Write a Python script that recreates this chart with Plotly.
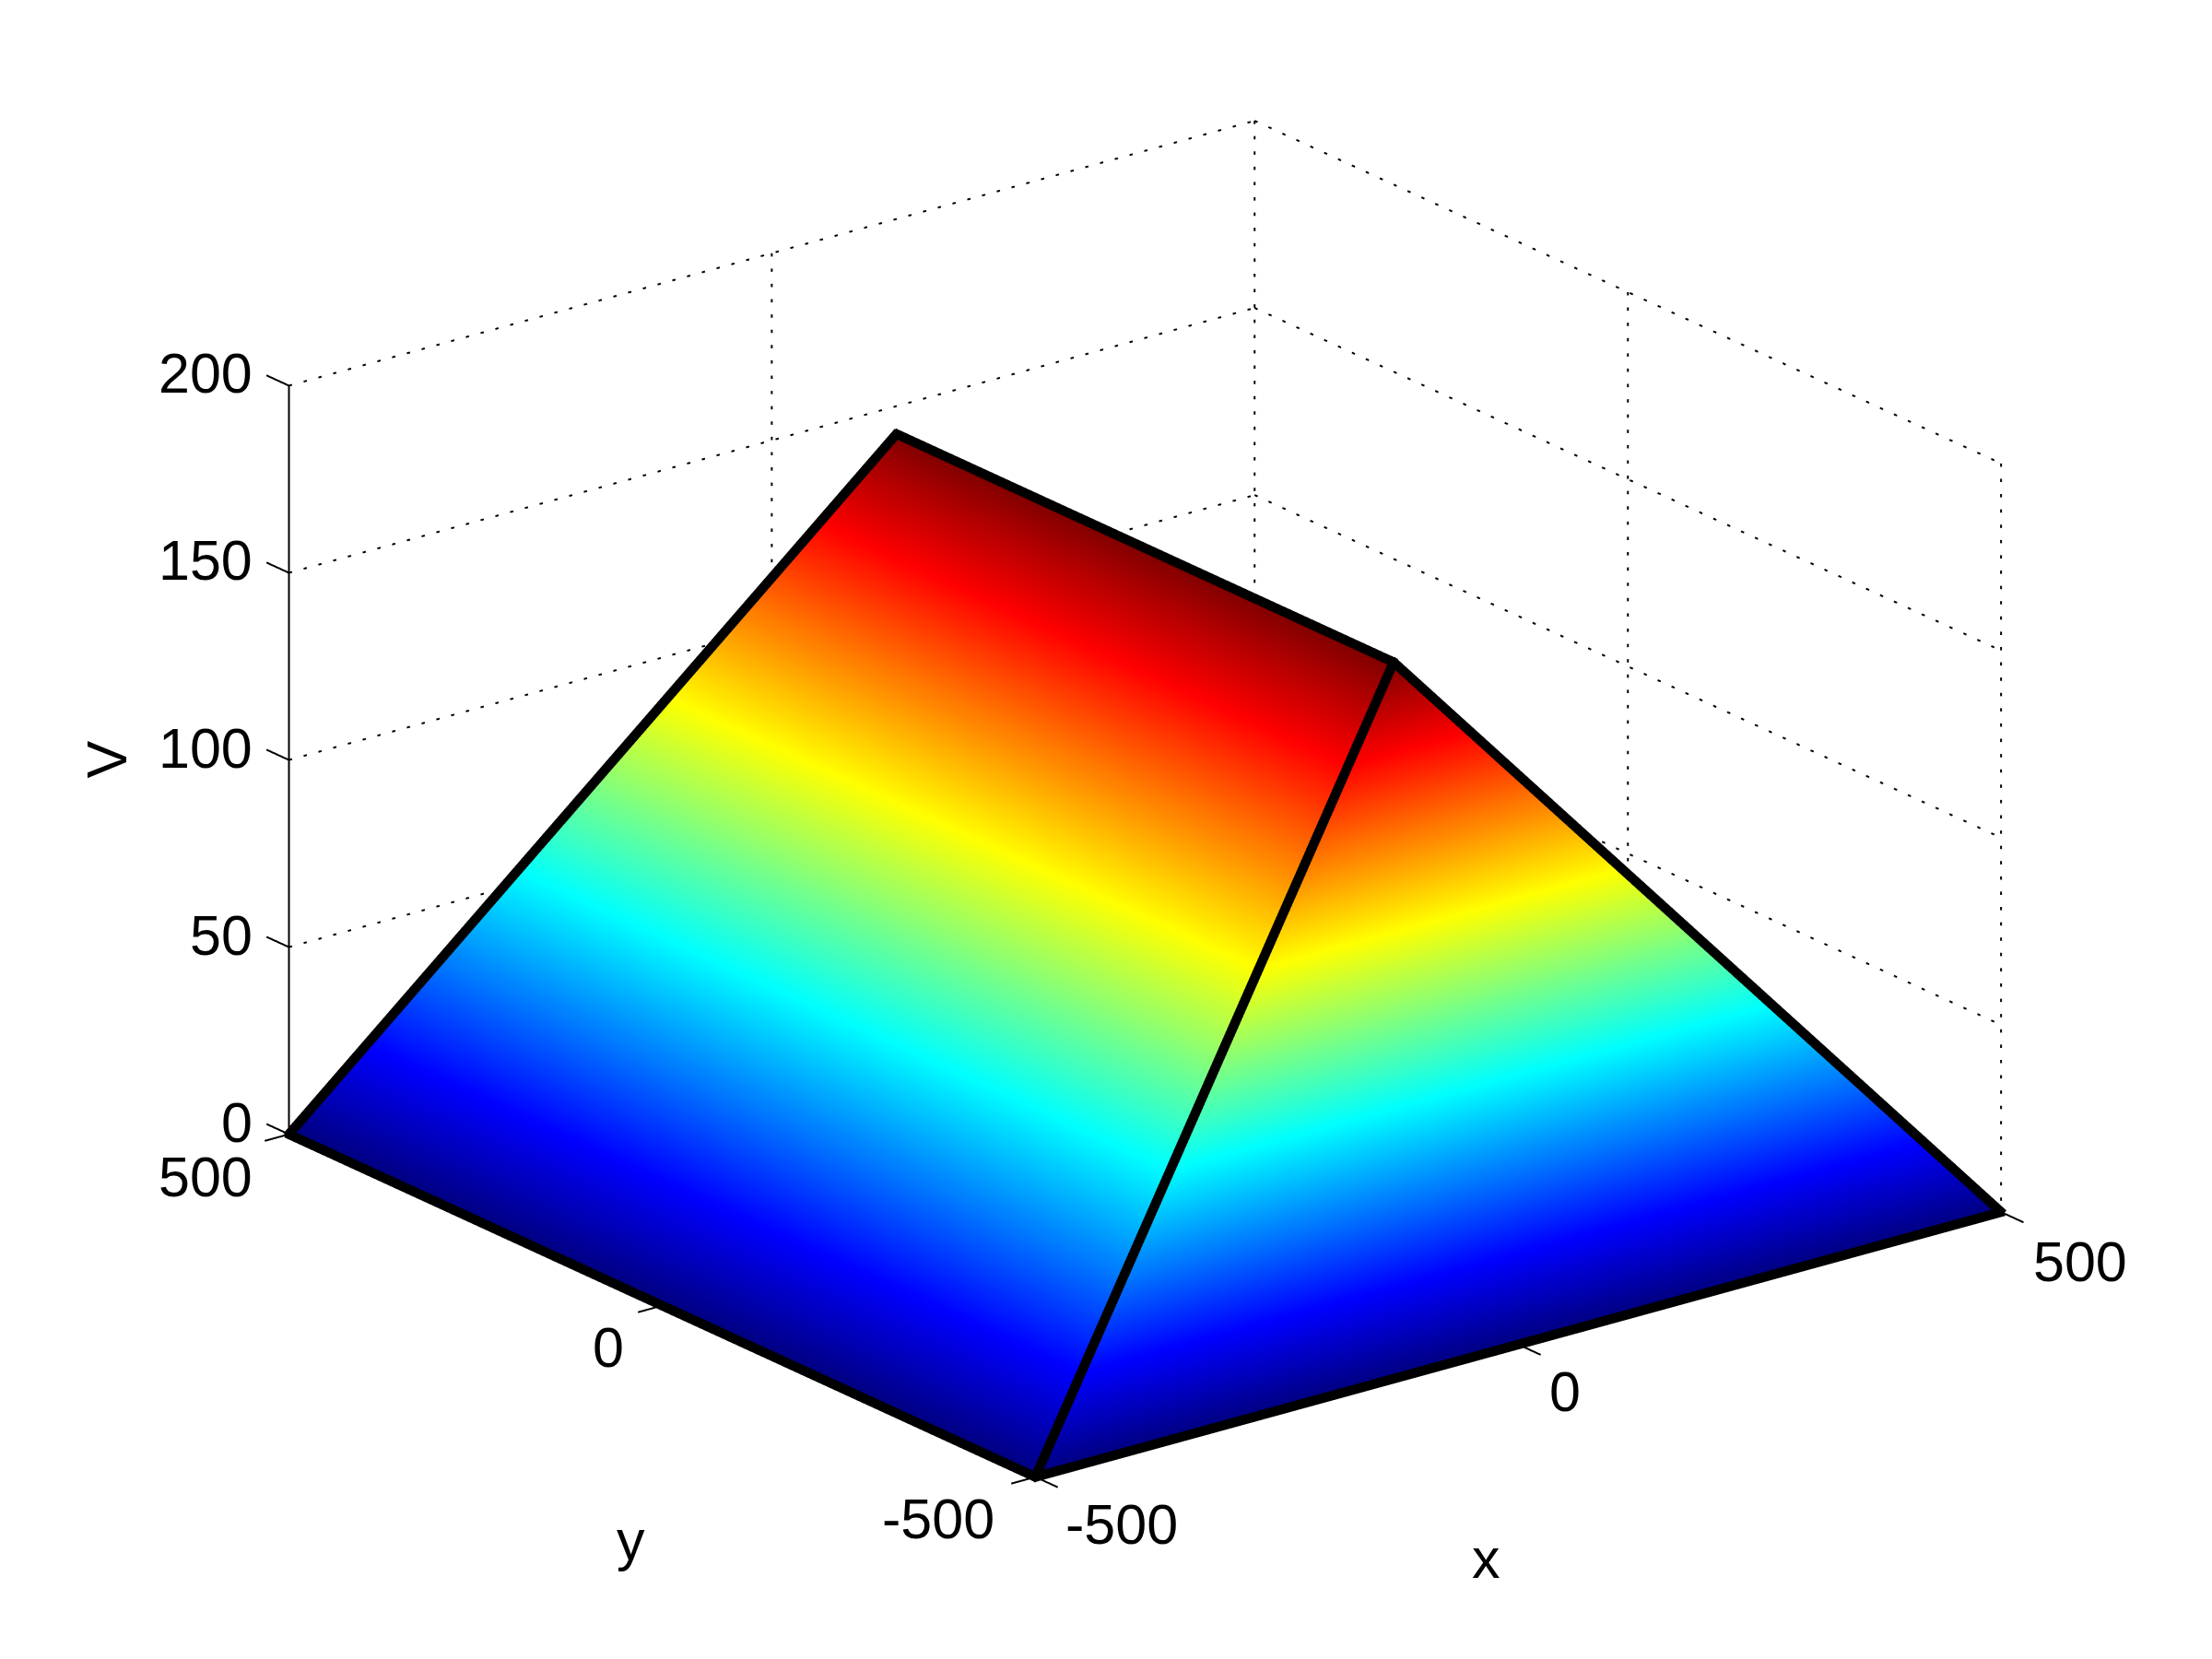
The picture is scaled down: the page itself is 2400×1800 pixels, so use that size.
import numpy as np
import plotly.graph_objects as go

# surface vertices
vx = [-500, -500, 500, 500, 0, 0]
vy = [500, -500, -500, 500, -333, 333]
vz = [0, 0, 0, 0, 167, 167]
tri_i = [0, 0, 1, 2, 2, 3]
tri_j = [1, 4, 2, 3, 5, 0]
tri_k = [4, 5, 4, 5, 4, 5]

# outline segments between vertices
edges = [(0, 1), (1, 2), (0, 5), (5, 4), (4, 2), (1, 4)]

x_ticks = [-500, 0, 500]
y_ticks = [-500, 0, 500]
z_ticks = [0, 50, 100, 150, 200]
x_labels = ["-500", "0", "500"]
y_labels = ["-500", "0", "500"]
z_labels = ["0", "50", "100", "150", "200"]

jet = [[0, "rgb(0,0,128)"], [0.125, "rgb(0,0,255)"], [0.375, "rgb(0,255,255)"],
       [0.625, "rgb(255,255,0)"], [0.875, "rgb(255,0,0)"], [1, "rgb(128,0,0)"]]

# view
VIEW = np.array([-0.572, -0.740, 0.355])
R = 1.8
K = 1.4715                 # orthographic zoom goes through the aspect ratio
ZASPECT = 0.656            # scene units for the 0..200 span
XR, YR, ZR = [-600, 600], [-600, 600], [-30, 230]
PX = 1325.0                # pixels per scene unit
Z_MID = 100


def to_scene(x, y, z):
    return np.array([x / 1000, y / 1000, (z - Z_MID) / 200 * ZASPECT])


def from_scene(p):
    return p[0] * 1000, p[1] * 1000, p[2] / ZASPECT * 200 + Z_MID


def dotted(p, q, period_px=16.6, dot_px=3.6):
    """Short solid pieces along the straight line p->q, spaced as in the reference."""
    a, b = to_scene(*p), to_scene(*q)
    d = b - a
    e = VIEW / np.linalg.norm(VIEW)
    length_px = np.linalg.norm(d - d.dot(e) * e) * PX
    xs, ys, zs = [], [], []
    for t0 in np.arange(0, length_px, period_px):
        t1 = min(t0 + dot_px, length_px)
        for t in (t0, t1):
            u = from_scene(a + d * t / length_px)
            xs.append(u[0]); ys.append(u[1]); zs.append(u[2])
        xs.append(None); ys.append(None); zs.append(None)
    return xs, ys, zs


fig = go.Figure()
fig.add_trace(go.Mesh3d(x=vx, y=vy, z=vz, i=tri_i, j=tri_j, k=tri_k, intensity=vz,
                        colorscale=jet, cmin=0, cmax=167, showscale=False, flatshading=True,
                        lighting=dict(ambient=1, diffuse=0, specular=0, fresnel=0, roughness=1),
                        hoverinfo="skip"))

# dotted grid on the two back walls
gx, gy, gz = [], [], []
def add_dots(p, q):
    a, b, c = dotted(p, q)
    gx.extend(a); gy.extend(b); gz.extend(c)
for z in z_ticks:
    add_dots((x_ticks[0], y_ticks[-1], z), (x_ticks[-1], y_ticks[-1], z))
    add_dots((x_ticks[-1], y_ticks[-1], z), (x_ticks[-1], y_ticks[0], z))
for x in x_ticks[1:]:
    add_dots((x, y_ticks[-1], z_ticks[-1]), (x, y_ticks[-1], z_ticks[0]))
for y in y_ticks[:-1]:
    add_dots((x_ticks[-1], y, z_ticks[-1]), (x_ticks[-1], y, z_ticks[0]))
fig.add_trace(go.Scatter3d(x=gx, y=gy, z=gz, mode="lines", hoverinfo="skip", showlegend=False,
                           line=dict(color="black", width=4)))

# z axis line and tick marks
TX, TY = 25, 30
tx, ty, tz = [x_ticks[0], x_ticks[0], None], [y_ticks[-1], y_ticks[-1], None], [z_ticks[0], z_ticks[-1], None]
for z in z_ticks:
    tx += [x_ticks[0], x_ticks[0], None]; ty += [y_ticks[-1], y_ticks[-1] + TY, None]; tz += [z, z, None]
for y in y_ticks:
    tx += [x_ticks[0], x_ticks[0] - TX, None]; ty += [y, y, None]; tz += [z_ticks[0], z_ticks[0], None]
for x in x_ticks:
    tx += [x, x, None]; ty += [y_ticks[0], y_ticks[0] - TY, None]; tz += [z_ticks[0], z_ticks[0], None]
fig.add_trace(go.Scatter3d(x=tx, y=ty, z=tz, mode="lines", hoverinfo="skip", showlegend=False,
                           line=dict(color="black", width=4)))

# thick outline: flat black ribbons facing the camera, lifted toward it so nothing hides them
HALF = 5.2 / PX
LIFT = 0.03
e = VIEW / np.linalg.norm(VIEW)
rx, ry, rz, ri, rj, rk = [], [], [], [], [], []
for a, b in edges:
    p = to_scene(vx[a], vy[a], vz[a])
    q = to_scene(vx[b], vy[b], vz[b])
    d = q - p
    d_screen = d - d.dot(e) * e
    d_unit = d_screen / np.linalg.norm(d_screen)
    n = np.cross(d_unit, e)
    # keep the same depth along the edge; extend a little to close the joints
    p2 = p - d_unit * HALF * 0.6 + e * LIFT
    q2 = q + d_unit * HALF * 0.6 + e * LIFT
    base = len(rx)
    for c in (p2 - n * HALF, p2 + n * HALF, q2 + n * HALF, q2 - n * HALF):
        u = from_scene(c)
        rx.append(u[0]); ry.append(u[1]); rz.append(u[2])
    ri += [base, base]; rj += [base + 1, base + 2]; rk += [base + 2, base + 3]
fig.add_trace(go.Mesh3d(x=rx, y=ry, z=rz, i=ri, j=rj, k=rk, color="black", flatshading=True,
                        lighting=dict(ambient=1, diffuse=0, specular=0, fresnel=0, roughness=1),
                        hoverinfo="skip"))

# labels
FONT = dict(family="Liberation Sans, Arial", size=61, color="black")
anns = []
def label(x, y, z, text, dx, dy, angle=0):
    anns.append(dict(x=x, y=y, z=z, text=text, showarrow=False, font=FONT, xanchor="center",
                     yanchor="middle", xshift=dx, yshift=dy, textangle=angle))
S = 2400 / 1568
for z, t in zip(z_ticks, z_labels):
    w = len(t) * 0.556 * 61
    label(x_ticks[0], y_ticks[-1], z, t, -26 * S - w / 2, 8.5 * S)
for y, t, o in zip(y_ticks, y_labels, [(-69, -29.5), (-38, -29.5), (-59, -30.5)]):
    label(x_ticks[0], y, z_ticks[0], t, o[0] * S, o[1] * S)
for x, t, o in zip(x_ticks, x_labels, [(61, -33.5), (33, -33.5), (56, -35.5)]):
    label(x, y_ticks[0], z_ticks[0], t, o[0] * S, o[1] * S)
label(x_ticks[1], y_ticks[0], z_ticks[0], "x", -23 * S, -151.5 * S)
label(x_ticks[0], y_ticks[1], z_ticks[0], "y", -22 * S, -166.5 * S)
label(x_ticks[0], y_ticks[-1], z_ticks[2], "V", -129 * S, 0, -90)


def axis(rng):
    return dict(title=dict(text=""), range=rng, showticklabels=False, showgrid=False, zeroline=False,
                showbackground=False, showline=False, ticks="", showspikes=False)


C = np.array([-0.0302, 0.0233, -0.0490])
eye = VIEW * R + C
fig.update_layout(
    width=2400, height=1800, margin=dict(l=0, r=0, t=0, b=0), paper_bgcolor="white", showlegend=False,
    scene=dict(
        xaxis=axis(XR), yaxis=axis(YR), zaxis=axis(ZR),
        aspectmode="manual",
        aspectratio=dict(x=K * (XR[1] - XR[0]) / 1000, y=K * (YR[1] - YR[0]) / 1000,
                         z=K * (ZR[1] - ZR[0]) / 200 * ZASPECT),
        annotations=anns,
        camera=dict(projection=dict(type="orthographic"),
                    eye=dict(x=eye[0], y=eye[1], z=eye[2]),
                    center=dict(x=C[0], y=C[1], z=C[2]), up=dict(x=0, y=0, z=1)),
        domain=dict(x=[0, 1], y=[0, 1])))
fig.write_html("out.html")
